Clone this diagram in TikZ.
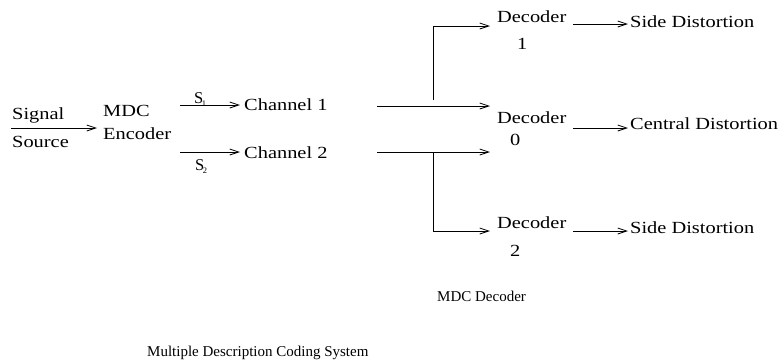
\documentclass[tikz,border=0pt]{standalone}
\usepackage{fontspec}
\setmainfont{Liberation Serif}[FakeStretch=1.2]
\newfontfamily\capfont{Liberation Serif}
\usetikzlibrary{arrows.meta}
\tikzset{
lbl/.style={inner sep=0pt, anchor=base west, font=\fontsize{17}{20}\selectfont},
caplbl/.style={inner sep=0pt, anchor=base west, font=\capfont\fontsize{15}{18}\selectfont},
sublbl/.style={inner sep=0pt, anchor=base west, font=\capfont\fontsize{16.5}{18}\selectfont},
arr/.style={line width=0.8pt, -{Straight Barb[length=9pt,width=6pt]}},
wire/.style={line width=0.8pt}
}
\begin{document}
\begin{tikzpicture}[x=1pt,y=-1pt]
\useasboundingbox (0,0) rectangle (782,360);
% encoder side
\node[lbl] (sig) at (12,119) {Signal};
\node[lbl] (srcw) at (12,147) {Source};
\node[lbl] (mdc) at (103,116) {MDC};
\node[lbl] (enc) at (103,139) {Encoder};
\node[lbl] (ch1) at (244,110) {Channel 1};
\node[lbl] (ch2) at (244,158) {Channel 2};
\node[sublbl] (s1) at (194,103) {S\kern-1.5pt\raisebox{-3pt}{\fontsize{8.5}{9}\selectfont 1}};
\node[sublbl] (s2) at (195,170) {S\kern-1.5pt\raisebox{-3pt}{\fontsize{8.5}{9}\selectfont 2}};
\coordinate (in) at (11,128);
\coordinate (e1) at (180,105);
\coordinate (e2) at (180,152);
\path[draw,arr,shorten >=6pt] (in) -- (in -| enc.west);
\path[draw,arr,shorten >=4pt] (e1) -- (e1 -| ch1.west);
\path[draw,arr,shorten >=4pt] (e2) -- (e2 -| ch2.west);
% decoder side
\node[lbl] (dec1) at (497,22) {Decoder};
\node[lbl] (dec0) at (497,123) {Decoder};
\node[lbl] (dec2) at (497,228) {Decoder};
\node[lbl] (n1) at (517,49) {1};
\node[lbl] (n0) at (510,145) {0};
\node[lbl] (n2) at (510,256) {2};
\node[lbl] (out1) at (630,27) {Side Distortion};
\node[lbl] (out0) at (630,129) {Central Distortion};
\node[lbl] (out2) at (630,233) {Side Distortion};
\coordinate (b1) at (377,106);
\coordinate (b2) at (377,152);
\coordinate (j1) at (433,100);
\coordinate (j2) at (433,152);
\coordinate (t1) at (433,26);
\coordinate (t2) at (433,231);
\path[draw,arr,shorten >=7pt] (b1) -- (b1 -| dec0.west);
\path[draw,arr,shorten >=7pt] (b2) -- (b2 -| dec0.west);
\path[draw,wire] (j1) -- (t1);
\path[draw,wire] (j2) -- (t2);
\path[draw,arr,shorten >=7pt] (t1) -- (t1 -| dec1.west);
\path[draw,arr,shorten >=7pt] (t2) -- (t2 -| dec2.west);
\coordinate (o1) at (573,24);
\coordinate (o0) at (573,128);
\coordinate (o2) at (573,231);
\path[draw,arr,shorten >=2pt] (o1) -- (o1 -| out1.west);
\path[draw,arr,shorten >=2pt] (o0) -- (o0 -| out0.west);
\path[draw,arr,shorten >=2pt] (o2) -- (o2 -| out2.west);
% captions
\node[caplbl] (mdcdec) at (437,301) {MDC Decoder};
\node[caplbl] (title) at (147,356) {Multiple Description Coding System};
\end{tikzpicture}
\end{document}
